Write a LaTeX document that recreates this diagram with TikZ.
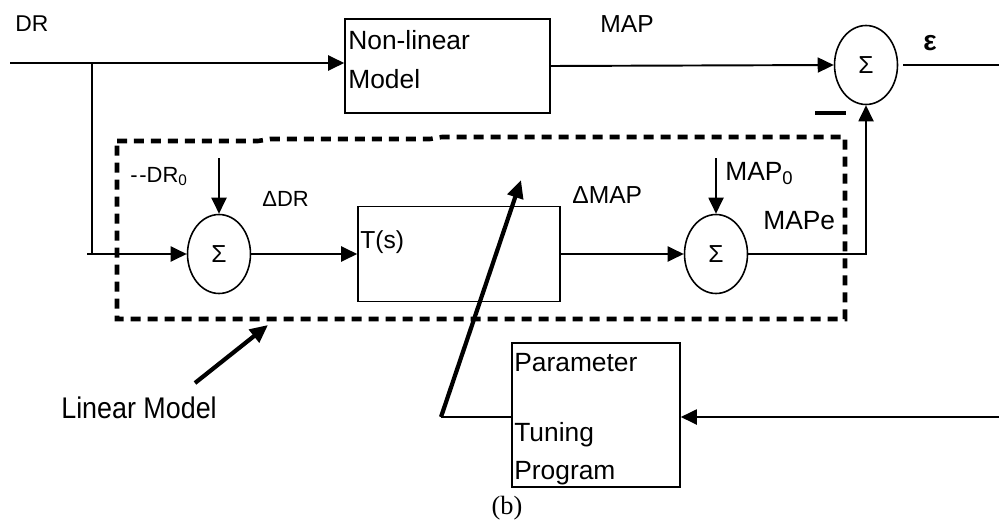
\documentclass[tikz,border=0pt]{standalone}
\usepackage{fontspec}
\setmainfont{Liberation Sans}
\newfontfamily\captionfont{Liberation Serif}
\usetikzlibrary{arrows.meta,shapes.geometric}

\tikzset{
  sumnode/.style={shape=ellipse,draw=black,line width=0.9pt,minimum width=1.26cm,minimum height=1.58cm,inner sep=0pt,font=\fontsize{14}{16}\selectfont},
  blockbox/.style={shape=rectangle,draw=black,line width=0.9pt,inner sep=0pt},
  blocktext/.style={anchor=north west,align=left,inner sep=0pt,font=\fontsize{15}{22}\selectfont},
  lbl/.style={anchor=base west,inner sep=0pt,font=\fontsize{14}{16}\selectfont},
  wire/.style={line width=1.1pt},
  sig/.style={line width=1.1pt,-{Triangle[length=0.32cm,width=0.3cm]}},
  thickarrow/.style={line width=2.4pt,-{Triangle[length=0.36cm,width=0.32cm]}},
  dashbox/.style={line width=2.6pt,dash pattern=on 0.2cm off 0.14cm}
}

\begin{document}
\begin{tikzpicture}[x=0.02cm,y=-0.02cm]
\useasboundingbox (0,0) rectangle (999,527);
% blocks
\node (nlm) at (447.5,66) [blockbox,minimum width=4.1cm,minimum height=1.88cm] {};
\node (ts) at (459,254) [blockbox,minimum width=4.04cm,minimum height=1.9cm] {};
\node (ptp) at (596,415) [blockbox,minimum width=3.36cm,minimum height=2.88cm] {};
\node (s1) at (219,254) [sumnode] {Σ};
\node (s2) at (716,254) [sumnode] {Σ};
\node (s3) at (866,65) [sumnode] {Σ};
% texts in the blocks
\node (nlmtext) at (348,30) [blocktext] {Non-linear\\Model};
\node (tstext) at (360,248) [lbl] {T(s)};
\node (ptptext) at (514,353) [blocktext] {Parameter\\[0.62cm]Tuning\\Program};
% labels
\node (drlbl) at (15,32) [lbl,font=\fontsize{13}{15}\selectfont] {DR};
\node (maplbl) at (600,33) [lbl] {MAP};
\node (epslbl) at (930,43) [font=\fontsize{16}{18}\selectfont\bfseries] {ε};
\node (dr0lbl) at (130,182) [lbl,font=\fontsize{12.5}{15}\selectfont] {-\kern1pt-DR\textsubscript{0}};
\node (ddrlbl) at (262,206) [lbl,font=\fontsize{12.5}{15}\selectfont] {ΔDR};
\node (dmaplbl) at (572,203) [lbl] {ΔMAP};
\node (map0lbl) at (725,180) [lbl,font=\fontsize{15}{17}\selectfont] {MAP\textsubscript{0}};
\node (mapelbl) at (763,229) [lbl,font=\fontsize{15}{17}\selectfont] {MAPe};
\node (lmlbl) at (61,418) [lbl,font=\fontsize{17}{19}\selectfont,xscale=0.9] {Linear Model};
\node (cap) at (507,508) [font=\fontsize{15}{17}\captionfont] {(b)};
% free ends
\coordinate (drin) at (10,63);
\coordinate (br) at (92,63);
\coordinate (lowin) at (87,254);
\coordinate (dr0) at (219,158);
\coordinate (map0) at (716,158);
\coordinate (epsout) at (999,65);
\coordinate (fbin) at (999,417);
\coordinate (tunebend) at (441,417);
\coordinate (tunetip) at (521,180);
\coordinate (lmtail) at (195,383);
\coordinate (lmtip) at (268,325);
% connectors
\draw[sig] (drin) -- (drin -| nlm.west);
\draw[wire] (br) -- (br |- lowin);
\draw[sig] (lowin) -- (s1.west);
\draw[sig] (dr0) -- (s1.north);
\draw[sig] (s1.east) -- (s1.east -| ts.west);
\draw[sig] (ts.east) -- (ts.east -| s2.west);
\draw[sig] (map0) -- (s2.north);
\draw[sig] (s2.east) -| (s3.south);
\draw[sig] (nlm.east) -- (s3.west);
\draw[wire,shorten <=0.1cm] (s3.east) -- (epsout);
\draw[line width=2.2pt] (815,113) -- (846,113);
\draw[sig] (fbin) -- (fbin -| ptp.east);
\draw[wire] (tunebend -| ptp.west) -- (tunebend);
\draw[thickarrow] (tunebend) -- (tunetip);
\draw[thickarrow] (lmtail) -- (lmtip);
% linear model frame
\draw[dashbox] (117,141) -- (258,141) -- (270,139) -- (430,139) -- (442,137) -- (845,137) -- (845,319) -- (117,319) -- cycle;
\end{tikzpicture}
\end{document}
